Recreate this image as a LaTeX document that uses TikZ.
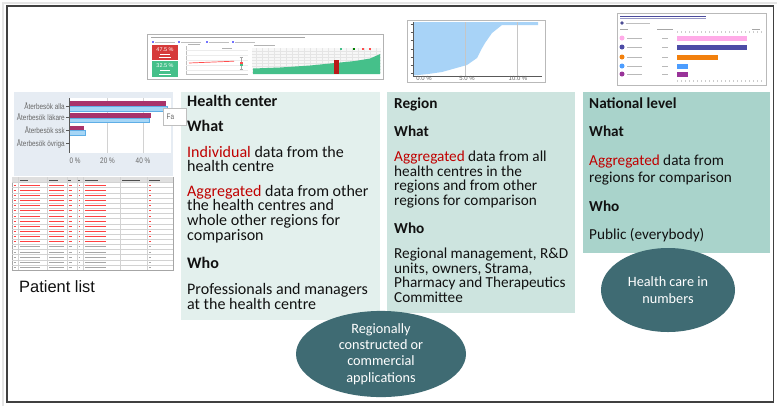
\documentclass[tikz,border=0pt]{standalone}
\usepackage{fontspec}
\setmainfont{Carlito}
\newfontfamily\arialfont{Liberation Sans}
\newfontfamily\narrowfont[FakeStretch=0.8]{Liberation Sans}
\usetikzlibrary{shapes.geometric}
\definecolor{hcbox}{HTML}{E3F0ED}
\definecolor{rgbox}{HTML}{CDE4DF}
\definecolor{natbox}{HTML}{A9D3CB}
\definecolor{ellfill}{HTML}{3F6B73}
\definecolor{accent}{HTML}{C00000}
\definecolor{txt}{HTML}{111111}
\definecolor{chartbg}{HTML}{E6ECF3}
\definecolor{magbar}{HTML}{A8336A}
\definecolor{bluebar}{HTML}{A6D6F6}
\definecolor{blueedge}{HTML}{5FAEE6}
\definecolor{redtile}{HTML}{D63A3A}
\definecolor{greentile}{HTML}{45C08A}
\definecolor{areablue}{HTML}{A8D3F7}
\definecolor{lblgray}{HTML}{666666}
\newcommand\tline[4]{\node[bt] (#1) at (#2,#3) {#4};}
\newcommand\hcline[4]{\node[bt, font=\fontsize{16.1}{18}\selectfont] (#1) at (#2,#3) {#4};}
\newcommand\red[1]{\textcolor{accent}{#1}}
\tikzset{
  bt/.style={anchor=base west, inner sep=0pt, font=\fontsize{15.3}{18}\selectfont, text=txt},
  ellnode/.style={ellipse, fill=ellfill, draw=none, text=white, align=center, inner sep=0pt,
    font=\fontsize{14.3}{16.3}\selectfont},
  chartlbl/.style={inner sep=0pt, font=\narrowfont\fontsize{8}{9}\selectfont, text=lblgray},
  tinylbl/.style={inner sep=0pt, font=\arialfont\fontsize{6}{7}\selectfont, text=lblgray},
  faint/.style={draw=gray!35, line width=0.4bp}
}
\begin{document}
\begin{tikzpicture}[x=1bp,y=-1bp]
\useasboundingbox (0,0) rectangle (780,409);
\fill[white] (0,0) rectangle (780,409);
% outer frame with faint shadow
\draw[gray!20, line width=2bp] (3,406) -- (3,3) -- (777,3);
\draw[black!75, line width=1.3bp] (7,6) rectangle (773.5,402);

% ---------- coloured boxes ----------
\fill[hcbox] (181,92) rectangle (380,320);
\fill[rgbox] (387,92) rectangle (575,313);
\fill[natbox] (583,92) rectangle (770,253);

% ---------- bar chart screenshot ----------
\fill[chartbg] (14,92) rectangle (173,176);
\fill[white] (69,98) rectangle (171,153);
\draw[faint] (107.5,98) -- (107.5,153) (143,98) -- (143,153);
\fill[magbar] (69,101) rectangle (166,106);
\filldraw[fill=bluebar, draw=blueedge, line width=0.4bp] (69,106) rectangle (167,111);
\fill[magbar] (69,113) rectangle (151,118);
\filldraw[fill=bluebar, draw=blueedge, line width=0.4bp] (69,118) rectangle (149,122.5);
\fill[magbar] (69,126) rectangle (84,130);
\filldraw[fill=bluebar, draw=blueedge, line width=0.4bp] (69,130) rectangle (85,135);
\draw[gray!70!black, line width=0.6bp] (69,98) -- (69,153);
\foreach \yy in {106,117.5,130.5,143} \draw[gray!70!black, line width=0.6bp] (66,\yy) -- (69,\yy);
\node[chartlbl, anchor=base east] (l1) at (65,109) {Återbesök alla};
\node[chartlbl, anchor=base east] (l2) at (65,120.5) {Återbesök läkare};
\node[chartlbl, anchor=base east] (l3) at (65,133.5) {Återbesök ssk};
\node[chartlbl, anchor=base east] (l4) at (65,146) {Återbesök övriga};
\node[chartlbl, anchor=base] (ax0) at (75,163) {0 \%};
\node[chartlbl, anchor=base] (ax20) at (107.5,163) {20 \%};
\node[chartlbl, anchor=base] (ax40) at (143,163) {40 \%};

% ---------- patient list table ----------
\filldraw[fill=white, draw=gray!70, line width=0.8bp] (12,177) rectangle (173,270);
\fill[gray!25] (12.4,177.4) rectangle (172.6,182.5);
\foreach \i in {0,...,16}{
  \pgfmathsetmacro{\ry}{182.5+\i*5.15}
  \draw[faint] (12.4,\ry) -- (172.6,\ry);
}
\foreach \xx in {18,47,67,77,83,120,147} \draw[faint] (\xx,177.4) -- (\xx,269.6);
\foreach \xx/\xe in {20/28,49/58,68/71,78/80,85/98,122/140,149/160}
  \draw[gray!60!black, line width=0.8bp] (\xx,179.9) -- (\xe,179.9);
\foreach \i in {0,...,16}{
  \pgfmathsetmacro{\ty}{185.1+\i*5.15}
  \pgfmathsetmacro{\tc}{\i<12 ? 1 : 0}
  \ifdim\tc pt>0.5pt \def\sc{red!75}\else\def\sc{gray!70}\fi
  \draw[\sc, line width=1bp] (13.5,\ty) -- (16,\ty) (20,\ty) -- (40,\ty) (49,\ty) -- (64,\ty)
     (68.5,\ty) -- (72,\ty) (78.5,\ty) -- (80,\ty) (85,\ty) -- (106,\ty) (149,\ty) -- (151,\ty);
}
\node[anchor=base west, inner sep=0pt, font=\arialfont\fontsize{16.5}{19}\selectfont, text=txt] (plist) at (19,292) {Patient list};

% ---------- top screenshot (dashboard) ----------
\filldraw[fill=white, draw=gray!60, line width=1bp] (147,34) rectangle (383,79);
\draw[gray!70, line width=0.8bp] (151,37.3) -- (305,37.3);
\foreach \xx in {152,178,206,232}{
  \fill[blue!55] (\xx,41) rectangle ++(2,2);
  \draw[gray!50, line width=0.6bp] (\xx+3,42) -- ++(20,0);
}
\fill[redtile] (152,45) rectangle (178,60.3);
\fill[greentile] (152,61) rectangle (178,77);
\node[inner sep=0pt, text=white, font=\arialfont\fontsize{5.5}{6}\selectfont] (p1) at (165,49.5) {47.5 \%};
\node[inner sep=0pt, text=white, font=\arialfont\fontsize{5.5}{6}\selectfont] (p2) at (165,66) {32.5 \%};
\draw[white, line width=0.5bp] (160,54) -- (170,54) (159,57.5) -- (171,57.5) (160,70.5) -- (170,70.5) (159,74) -- (171,74);
% middle line chart
\draw[gray!50, line width=0.5bp] (186,46) -- (186,74) -- (248,74);
\foreach \yy in {50,55,60,65,70} \draw[gray!15, line width=0.3bp] (186,\yy) -- (248,\yy);
\draw[gray!60, line width=0.6bp] (188,44.5) -- (200,44.5) (222,48) -- (232,48);
\draw[red!70, line width=0.7bp] (189,63) -- (234,61.2);
\draw[gray!70, line width=0.5bp] (241,57) -- (241,69) (239.5,57) -- (242.5,57) (239.5,69) -- (242.5,69);
\fill[red!70] (240.2,61.5) rectangle (242.6,64);
\fill[greentile] (240.2,64) rectangle (242.6,66);
% right bar panel
\fill[gray!6] (252,48) rectangle (381,74);
\foreach \yy in {51,54,57,60,63,66,69,72} \draw[gray!20, line width=0.3bp] (252,\yy) -- (381,\yy);
\foreach \xx in {256,262,...,380} \draw[gray!20, line width=0.3bp] (\xx,48) -- (\xx,74);
\fill[greentile] (253,74) -- (253,68.5) -- (280,67.5) -- (310,65.5) -- (335,63) -- (355,61) -- (370,58.5) -- (378,55) -- (380,54) -- (380,74) -- cycle;
\fill[red!70!black!90] (334,60) rectangle (338.5,74);
\draw[gray!60, line width=0.6bp] (254,45) -- (275,45);
\foreach \xx/\cc in {340/greentile,353/green!50!black,362/red!70,369/red!70}
  \fill[\cc] (\xx,48.2) rectangle ++(2,2);

% ---------- top middle chart ----------
\filldraw[fill=white, draw=gray!55, line width=0.8bp] (407,20) rectangle (545,82);
\fill[areablue] (413,22) -- (538,22) -- (538,25) -- (502,25) -- (492,33) -- (485,43) -- (481,50)
   -- (477,58) -- (467,65) -- (442,72) -- (428,74) -- (413,75.5) -- cycle;
\draw[gray!45, line width=0.4bp] (465,22) -- (465,76) (517,22) -- (517,76);
\draw[gray!70!black, line width=0.6bp] (413,22) -- (413,76) -- (542,76);
\foreach \yy in {24,32,40,49,57,65,73} \draw[gray!70!black, line width=0.5bp] (410.5,\yy) -- (413,\yy);
\node[tinylbl, anchor=base] (m0) at (424,80.5) {0.0 \%};
\node[tinylbl, anchor=base] (m5) at (467,80.5) {5.0 \%};
\node[tinylbl, anchor=base] (m10) at (518,80.5) {10.0 \%};

% ---------- top right chart ----------
\filldraw[fill=white, draw=gray!55, line width=0.8bp] (617,13) rectangle (766,85);
\draw[blue!45!black!70, line width=0.8bp] (620,16.8) -- (706,16.8);
\draw[blue!45!black!40, line width=0.3bp] (620,18.5) -- (706,18.5);
\fill[blue!40!black!70] (622,23) circle (1.8bp);
\draw[gray!50, line width=0.7bp] (626,23) -- (650,23);
\draw[gray!70, line width=0.7bp] (620,29) -- (628,29) (657,29) -- (673,29) (752,29) -- (760,29);
\foreach \xx in {677,681,...,763} {\draw[gray!40, line width=0.3bp] (\xx,31) -- (\xx,33); \draw[gray!40, line width=0.3bp] (\xx,80) -- (\xx,82);}
\foreach \yy/\cc in {38/pink!60!magenta!60,47/blue!50!black!70,57/orange!80!brown,66/blue!55!cyan!70,74/violet!80}{
  \fill[\cc] (622,\yy) circle (2.5bp);
  \draw[gray!55, line width=0.7bp] (627,\yy) -- (642,\yy) (662,\yy) -- (668,\yy);
}
\fill[pink!60!magenta!60] (677,35.5) rectangle (747,40.5);
\fill[blue!50!black!70] (677,44.5) rectangle (747,49.5);
\fill[orange!80!brown] (677,54.5) rectangle (718,59.5);
\fill[blue!55!cyan!70] (677,63.5) rectangle (688,68.5);
\fill[violet!80] (677,71.5) rectangle (688,76.5);

% ---------- tooltip over bar chart ----------
\filldraw[fill=white, draw=gray!50, line width=0.5bp] (163,108) rectangle (186,125);
\node[chartlbl, anchor=base west] (fa) at (166.5,119) {Fa};

% ---------- Health center text ----------
\hcline{hc1}{187}{106}{\bfseries Health center}
\hcline{hc2}{187}{131}{\bfseries What}
\hcline{hc3}{187}{157}{\red{Individual} data from the}
\hcline{hc4}{187}{171.5}{health centre}
\hcline{hc5}{187}{196}{\red{Aggregated} data from other}
\hcline{hc6}{187}{210.7}{the health centres and}
\hcline{hc7}{187}{225.4}{whole other regions for}
\hcline{hc8}{187}{240}{comparison}
\hcline{hc9}{187}{268.5}{\bfseries Who}
\hcline{hc10}{187}{294.5}{Professionals and managers}
\hcline{hc11}{187}{309}{at the health centre}

% ---------- Region text ----------
\tline{rg1}{394}{108.5}{\bfseries Region}
\tline{rg2}{394}{136.5}{\bfseries What}
\tline{rg3}{394}{161.5}{\red{Aggregated} data from all}
\tline{rg4}{394}{176.2}{health centres in the}
\tline{rg5}{394}{190.9}{regions and from other}
\tline{rg6}{394}{205.6}{regions for comparison}
\tline{rg7}{394}{233.5}{\bfseries Who}
\tline{rg8}{394}{258.5}{Regional management, R\&D}
\tline{rg9}{394}{273.2}{units, owners, Strama,}
\tline{rg10}{394}{287.9}{Pharmacy and Therapeutics}
\tline{rg11}{394}{302.6}{Committee}

% ---------- National text ----------
\tline{nl1}{589}{108.5}{\bfseries National level}
\tline{nl2}{589}{136}{\bfseries What}
\tline{nl3}{589}{165.5}{\red{Aggregated} data from}
\tline{nl4}{589}{182.8}{regions for comparison}
\tline{nl5}{589}{211.5}{\bfseries Who}
\tline{nl6}{589}{239.5}{Public (everybody)}

% ---------- ellipses ----------
\node[ellnode, minimum width=170bp, minimum height=84bp] (apps) at (381,354)
  {Regionally\\constructed or\\commercial\\applications};
\node[ellnode, minimum width=134bp, minimum height=84bp] (hcn) at (668,290)
  {Health care in\\numbers};
\end{tikzpicture}
\end{document}
